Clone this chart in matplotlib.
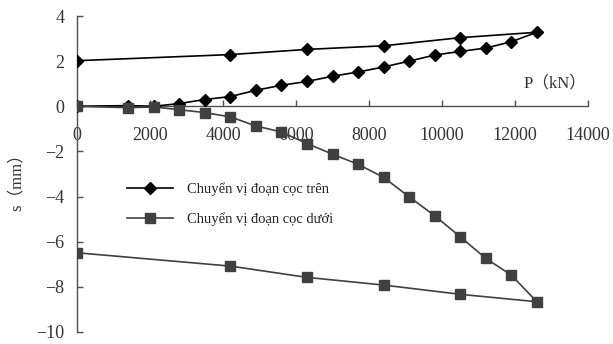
import matplotlib
matplotlib.use("Agg")
import matplotlib.pyplot as plt

# Upper pile segment (diamonds): loading then unloading
p_top = [0, 1400, 2100, 2800, 3500, 4200, 4900, 5600, 6300, 7000, 7700, 8400,
         9100, 9800, 10500, 11200, 11900, 12600, 10500, 8400, 6300, 4200, 0]
s_top = [0.0, 0.03, 0.0, 0.12, 0.3, 0.43, 0.71, 0.93, 1.1, 1.33, 1.52, 1.74,
         2.0, 2.27, 2.43, 2.58, 2.86, 3.28, 3.04, 2.68, 2.52, 2.29, 2.02]

# Lower pile segment (squares): loading then unloading
p_bot = [0, 1400, 2100, 2800, 3500, 4200, 4900, 5600, 6300, 7000, 7700, 8400,
         9100, 9800, 10500, 11200, 11900, 12600, 10500, 8400, 6300, 4200, 0]
s_bot = [0.0, -0.06, -0.03, -0.15, -0.28, -0.47, -0.87, -1.14, -1.65, -2.12, -2.57, -3.15,
         -4.01, -4.85, -5.78, -6.74, -7.48, -8.66, -8.33, -7.92, -7.58, -7.08, -6.49]

label_top = "Chuyển vị đoạn cọc trên"
label_bot = "Chuyển vị đoạn cọc dưới"
xticks = [0, 2000, 4000, 6000, 8000, 10000, 12000, 14000]
yticks = [-10, -8, -6, -4, -2, 0, 2, 4]

W, H = 613, 344
fig = plt.figure(figsize=(W / 100, H / 100), dpi=100)
ax = fig.add_axes([77 / W, 1 - 332 / H, (588 - 77) / W, (332 - 16) / H])

axis_col = "#505050"
text_col = "#333333"

ax.plot(p_top, s_top, color="black", lw=1.2, marker="D", ms=6.5,
        mfc="black", mec="black", label=label_top, zorder=3)
ax.plot(p_bot, s_bot, color="#404040", lw=1.2, marker="s", ms=6.8,
        mfc="#404040", mec="#404040", label=label_bot, zorder=4)

ax.set_xlim(0, 14000)
ax.set_ylim(-10, 4)
ax.set_xticks(xticks)
ax.set_yticks(yticks)
ax.set_xticklabels([str(v) for v in xticks])
ax.set_yticklabels([str(v).replace("-", "\u2212") for v in yticks])

for sp in ["top", "right"]:
    ax.spines[sp].set_visible(False)
ax.spines["bottom"].set_position(("data", 0))
ax.spines["left"].set_position(("data", 0))
for sp in ["bottom", "left"]:
    ax.spines[sp].set_color(axis_col)
    ax.spines[sp].set_linewidth(1.0)

ax.tick_params(axis="x", direction="in", length=4.5, width=1.0, color=axis_col,
               pad=15, labelcolor=text_col)
ax.tick_params(axis="y", direction="in", length=4.5, width=1.0, color=axis_col,
               pad=9, labelcolor=text_col)
for lab in ax.get_xticklabels() + ax.get_yticklabels():
    lab.set_fontfamily("Liberation Serif")
    lab.set_fontsize(13)

ax.text(13100, 1.0, "P（kN）", ha="center", va="center", color=text_col,
        fontsize=12, family=["Liberation Serif", "Noto Sans CJK SC"])
fig.text(17 / W, 1 - 178 / H, "s（mm）", rotation=90, ha="center", va="center",
         color=text_col, fontsize=12, family=["Liberation Serif", "Noto Sans CJK SC"])

leg = ax.legend(loc="upper left", bbox_to_anchor=(120 / W, 1 - 175 / H),
                bbox_transform=fig.transFigure, frameon=False, borderpad=0,
                handlelength=3.1, handletextpad=1.0, labelspacing=1.1,
                prop=dict(family="Liberation Serif", size=10.5))
for t in leg.get_texts():
    t.set_color("#222222")

fig.savefig("out.png", dpi=100)
